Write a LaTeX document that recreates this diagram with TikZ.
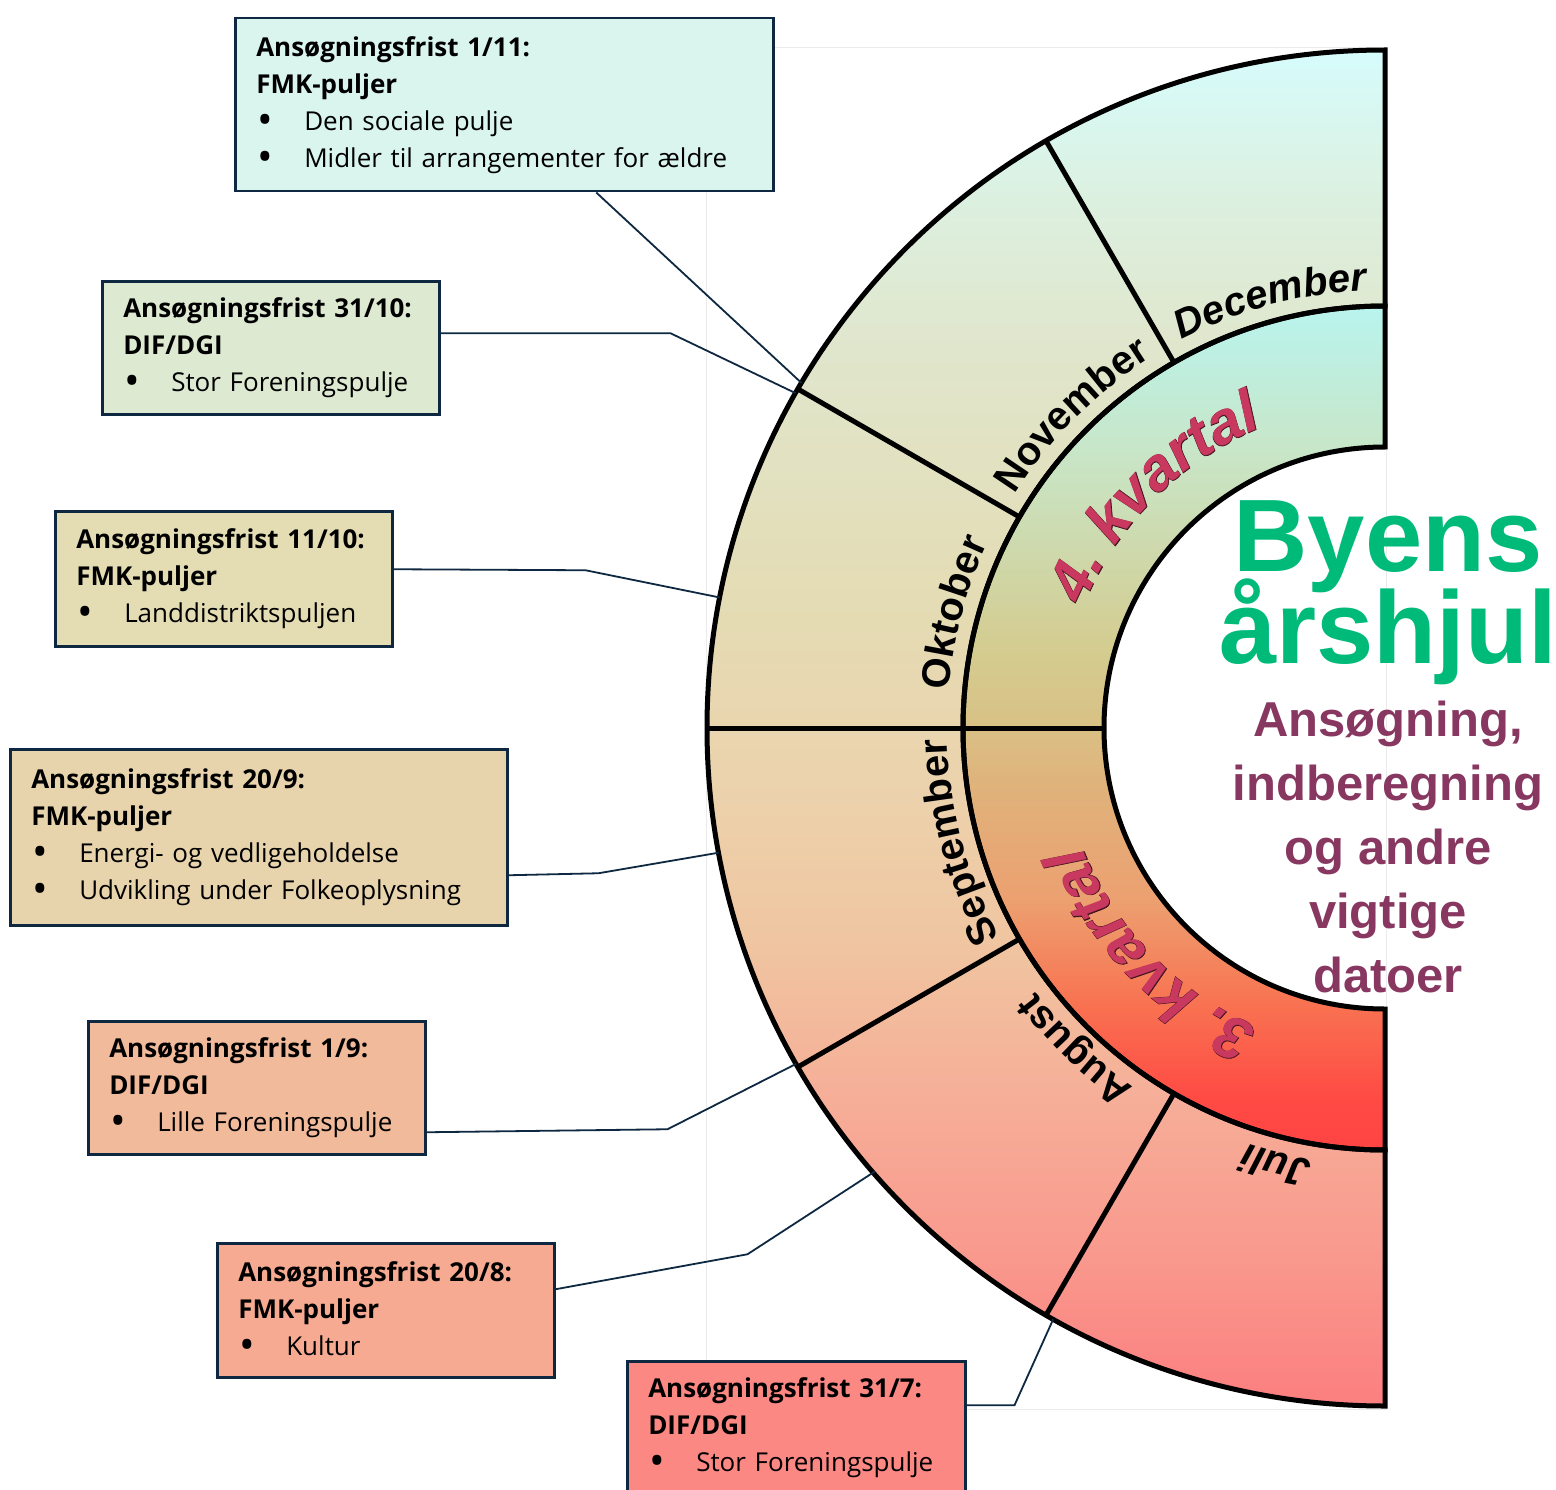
\documentclass[tikz,border=0pt]{standalone}
\usepackage{fontspec}
\setmainfont{Open Sans}
\newfontfamily\arialfont{Liberation Sans}
\newfontfamily\arialrim[FakeBold=1.2]{Liberation Sans}
\usepackage{xcolor}
\usetikzlibrary{positioning, calc, decorations.text}

\definecolor{boxline}{RGB}{14,40,65}
\definecolor{titlegreen}{RGB}{0,186,122}
\definecolor{subpurple}{RGB}{136,56,96}
\definecolor{kvred}{RGB}{201,56,94}
\definecolor{kvrim}{RGB}{70,20,35}
\definecolor{fillA}{RGB}{218,245,238}
\definecolor{fillB}{RGB}{222,233,210}
\definecolor{fillC}{RGB}{228,221,180}
\definecolor{fillD}{RGB}{232,212,172}
\definecolor{fillE}{RGB}{241,186,154}
\definecolor{fillF}{RGB}{246,170,146}
\definecolor{fillG}{RGB}{251,136,131}
% ring colours, bottom to top
\definecolor{mA}{RGB}{251,128,128}
\definecolor{mB}{RGB}{249,154,142}
\definecolor{mC}{RGB}{246,174,152}
\definecolor{mD}{RGB}{240,196,160}
\definecolor{mE}{RGB}{236,210,172}
\definecolor{mF}{RGB}{228,220,180}
\definecolor{mG}{RGB}{224,230,204}
\definecolor{mH}{RGB}{220,240,224}
\definecolor{mI}{RGB}{214,252,252}
\definecolor{qA}{RGB}{255,68,68}
\definecolor{qB}{RGB}{255,74,68}
\definecolor{qC}{RGB}{248,116,82}
\definecolor{qD}{RGB}{236,160,112}
\definecolor{qE}{RGB}{223,180,124}
\definecolor{qF}{RGB}{216,194,134}
\definecolor{qG}{RGB}{212,204,144}
\definecolor{qH}{RGB}{200,230,200}
\definecolor{qI}{RGB}{184,244,238}

\pgfdeclareverticalshading{monthring}{100bp}{color(0bp)=(mA); color(25.3bp)=(mA);
  color(30.8bp)=(mB); color(36.3bp)=(mC); color(41.8bp)=(mD); color(47.4bp)=(mE);
  color(54.7bp)=(mF); color(64bp)=(mG); color(69.5bp)=(mH); color(75bp)=(mI); color(100bp)=(mI)}
\pgfdeclareverticalshading{quarterring}{100bp}{color(0bp)=(qA); color(25bp)=(qA);
  color(28bp)=(qB); color(33.9bp)=(qC); color(39.8bp)=(qD); color(47bp)=(qE);
  color(50.5bp)=(qF); color(54.7bp)=(qG); color(66.5bp)=(qH); color(75bp)=(qI); color(100bp)=(qI)}

\newcommand{\bul}{\makebox[48pt][l]{\hspace{1pt}\raisebox{-4pt}{\scalebox{1.6}{\textbullet}}}}
\newcommand{\monthfont}{\arialfont\bfseries\fontsize{40}{40}\selectfont}
\newcommand{\monthfontit}{\arialfont\bfseries\itshape\fontsize{40}{40}\selectfont}
\newcommand{\kvfont}{\arialfont\bfseries\itshape\fontsize{60}{60}\selectfont}
\newcommand{\kvrimfont}{\arialrim\bfseries\itshape\fontsize{60}{60}\selectfont}
\newcommand{\tightlines}{\setlength{\lineskiplimit}{-100pt}}

\begin{document}
\begin{tikzpicture}[x=1pt, y=1pt,
    node distance = 16pt,% for distance between title nodes
    fristbox/.style = {draw=boxline, line width=2.5pt, anchor=north west, inner xsep=21pt,
                       align=left, font=\fontsize{26}{37}\selectfont},% deadline boxes
    conn/.style = {draw=boxline, line width=1.8pt},
    wheel/.style = {draw=black, line width=5pt, line join=miter},
    kvtext/.style = {decorate, decoration={text along path, text align=center, text color=#1}}
    ]
    \useasboundingbox (0,0) rectangle (1556,-1490);
    \draw[black!8, line width=1pt] (706,-48) rectangle (1386,-1409);

    \coordinate (C) at (1385,-728);
    % the half wheel
    \shade[shading=monthring] ($(C)+(90:678pt)$) arc[start angle=90, end angle=270, radius=678pt]
        -- ($(C)+(270:422pt)$) arc[start angle=270, end angle=90, radius=422pt] -- cycle;
    \shade[shading=quarterring] ($(C)+(90:422pt)$) arc[start angle=90, end angle=270, radius=422pt]
        -- ($(C)+(270:281pt)$) arc[start angle=270, end angle=90, radius=281pt] -- cycle;
    \draw[wheel] ($(C)+(90:678pt)$) arc[start angle=90, end angle=270, radius=678pt]
        -- ($(C)+(270:422pt)$) arc[start angle=270, end angle=90, radius=422pt] -- cycle;
    \draw[wheel] ($(C)+(90:422pt)$) arc[start angle=90, end angle=270, radius=422pt]
        -- ($(C)+(270:281pt)$) arc[start angle=270, end angle=90, radius=281pt] -- cycle;
    \foreach \a in {120,150,210,240}
        \draw[wheel] ($(C)+(\a:422pt)$) -- ($(C)+(\a:678pt)$);
    \draw[wheel] ($(C)+(180:281pt)$) -- ($(C)+(180:678pt)$);

    % months
    \path[decorate, decoration={text along path, text align=center, text={|\monthfontit|December}}]
        ($(C)+(120:438pt)$) arc[start angle=120, end angle=90, radius=438pt];
    \path[decorate, decoration={text along path, text align=center, text={|\monthfont|November}}]
        ($(C)+(150:438pt)$) arc[start angle=150, end angle=120, radius=438pt];
    \path[decorate, decoration={text along path, text align=center, text={|\monthfont|Oktober}}]
        ($(C)+(180:438pt)$) arc[start angle=180, end angle=150, radius=438pt];
    \path[decorate, decoration={text along path, text align=center, text={|\monthfont|September}}]
        ($(C)+(210:438pt)$) arc[start angle=210, end angle=180, radius=438pt];
    \path[decorate, decoration={text along path, text align=center, text={|\monthfont|August}}]
        ($(C)+(241:438pt)$) arc[start angle=241, end angle=211, radius=438pt];
    \path[decorate, decoration={text along path, text align=center, text={|\monthfontit|Juli}}]
        ($(C)+(271:438pt)$) arc[start angle=271, end angle=241, radius=438pt];

    % quarters, a dark rim under the red letters
    \path[kvtext=kvrim, decoration={text={|\kvrimfont|4. kvartal}}]
        ($(C)+(180:325pt)$) arc[start angle=180, end angle=90, radius=325pt];
    \path[kvtext=kvred, decoration={text={|\kvfont|4. kvartal}}]
        ($(C)+(180:325pt)$) arc[start angle=180, end angle=90, radius=325pt];
    \path[kvtext=kvrim, decoration={text={|\kvrimfont|3. kvartal}}]
        ($(C)+(269:325pt)$) arc[start angle=269, end angle=179, radius=325pt];
    \path[kvtext=kvred, decoration={text={|\kvfont|3. kvartal}}]
        ($(C)+(269:325pt)$) arc[start angle=269, end angle=179, radius=325pt];

    % title
    \node (title) [anchor=north, inner sep=0pt, align=center, text=titlegreen,
        font=\arialfont\bfseries\fontsize{103}{92}\selectfont\tightlines] at (1388,-500) {Byens\\årshjul};
    \node (subtitle) [below=of title, inner sep=0pt, align=center, text=subpurple,
        font=\arialfont\bfseries\fontsize{49}{64}\selectfont\tightlines]
        {Ansøgning,\\indberegning\\og andre\\vigtige\\datoer};

    % deadline boxes
    \node (f1nov) [fristbox, fill=fillA, text width=496pt, minimum height=173pt] at (234,-17)
        {\textbf{Ansøgningsfrist 1/11:}\\\textbf{FMK-puljer}\\\bul Den sociale pulje\\\bul Midler til arrangementer for ældre};
    \node (f31okt) [fristbox, fill=fillB, text width=295pt, minimum height=133pt] at (101,-280)
        {\textbf{Ansøgningsfrist 31/10:}\\\textbf{DIF/DGI}\\\bul Stor Foreningspulje};
    \node (f11okt) [fristbox, fill=fillC, text width=295pt, minimum height=135pt] at (54,-510)
        {\textbf{Ansøgningsfrist 11/10:}\\\textbf{FMK-puljer}\\\bul Landdistriktspuljen};
    \node (f20sep) [fristbox, fill=fillD, text width=455pt, minimum height=176pt] at (9,-748)
        {\textbf{Ansøgningsfrist 20/9:}\\\textbf{FMK-puljer}\\\bul Energi- og vedligeholdelse\\\bul Udvikling under Folkeoplysning};
    \node (f1sep) [fristbox, fill=fillE, text width=295pt, minimum height=133pt] at (87,-1020)
        {\textbf{Ansøgningsfrist 1/9:}\\\textbf{DIF/DGI}\\\bul Lille Foreningspulje};
    \node (f20aug) [fristbox, fill=fillF, text width=295pt, minimum height=134pt] at (216,-1242)
        {\textbf{Ansøgningsfrist 20/8:}\\\textbf{FMK-puljer}\\\bul Kultur};
    \node (f31jul) [fristbox, fill=fillG, text width=296pt, minimum height=133pt] at (626,-1360)
        {\textbf{Ansøgningsfrist 31/7:}\\\textbf{DIF/DGI}\\\bul Stor Foreningspulje};

    % where the connectors meet the wheel
    \coordinate (t1) at ($(C)+(149.4:678pt)$);
    \coordinate (t2) at ($(C)+(150.4:678pt)$);
    \coordinate (t3) at ($(C)+(168.9:678pt)$);
    \coordinate (t4) at ($(C)+(190.6:678pt)$);
    \coordinate (t5) at ($(C)+(209.7:678pt)$);
    \coordinate (t6) at ($(C)+(221:676pt)$);
    \coordinate (t7) at ($(C)+(240.7:678pt)$);
    \draw[conn] ([xshift=92pt]f1nov.south) -- (t1);
    \draw[conn] ([yshift=14.5pt]f31okt.east) -- ++(230pt,0pt) -- (t2);
    \draw[conn] ([yshift=9.5pt]f11okt.east) -- ++(192pt,-1pt) -- (t3);
    \draw[conn] ([yshift=-38pt]f20sep.east) -- ++(90pt,2pt) -- (t4);
    \draw[conn] ([yshift=-44.5pt]f1sep.east) -- ++(241pt,3pt) -- (t5);
    \draw[conn] ([yshift=21pt]f20aug.east) -- ++(192pt,35pt) -- (t6);
    \draw[conn] ([yshift=22.5pt]f31jul.east) -- ++(48pt,0pt) -- (t7);
\end{tikzpicture}
\end{document}
